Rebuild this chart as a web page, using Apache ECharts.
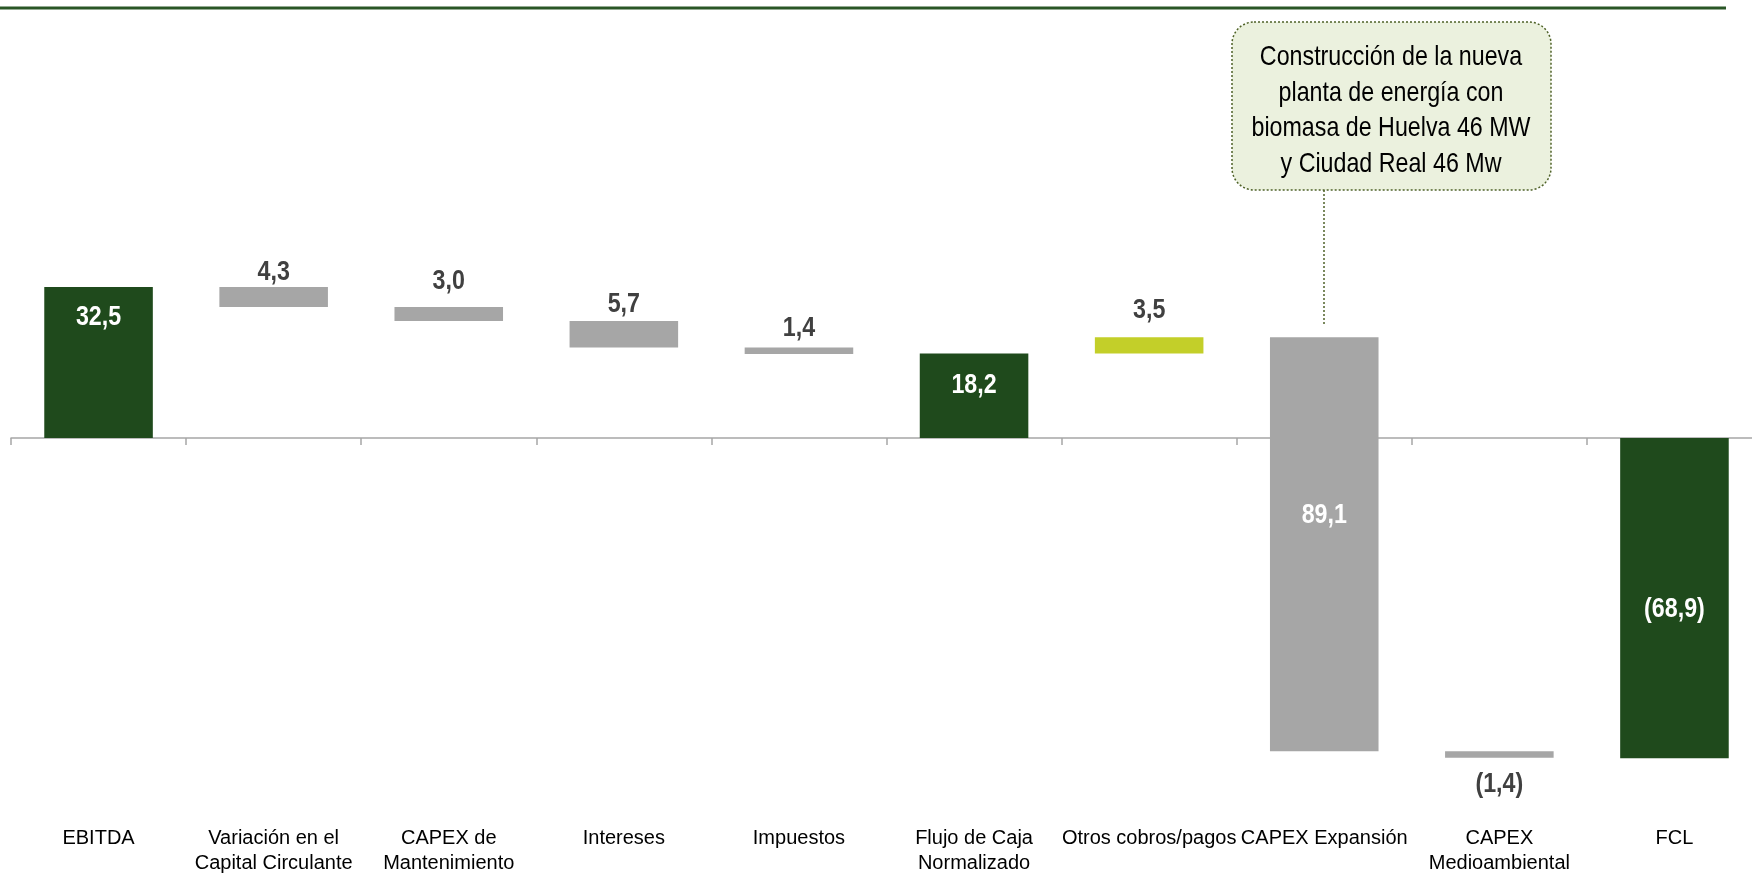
<!DOCTYPE html>
<html>
<head>
<meta charset="utf-8">
<script src="https://cdn.jsdelivr.net/npm/echarts@6/dist/echarts.min.js"></script>
<style>
  html, body { margin: 0; padding: 0; background: #fff; }
  #chart { width: 1752px; height: 877px; }
</style>
</head>
<body>
<div id="chart"></div>
<script>
const categories = ['EBITDA', 'Variación en el\nCapital Circulante', 'CAPEX de\nMantenimiento', 'Intereses', 'Impuestos',
  'Flujo de Caja\nNormalizado', 'Otros cobros/pagos', 'CAPEX Expansión', 'CAPEX\nMedioambiental', 'FCL']
// where each bar starts and ends (waterfall)
const barStart = [0, 32.5, 28.2, 25.2, 19.5, 0, 18.2, 21.7, -67.4, 0]
const barEnd = [32.5, 28.2, 25.2, 19.5, 18.1, 18.2, 21.7, -67.4, -68.8, -68.9]
const valueLabels = ['32,5', '4,3', '3,0', '5,7', '1,4', '18,2', '3,5', '89,1', '(1,4)', '(68,9)']
const barKinds = ['total', 'step', 'step', 'step', 'step', 'total', 'up', 'step', 'step', 'total']
const noteText = 'Construcción de la nueva\nplanta de energía con\nbiomasa de Huelva 46 MW\ny Ciudad Real 46 Mw'

const FONT = "'Liberation Sans', Arial, sans-serif"
const NARROW = 0.83 // squeeze Liberation Sans to look like Arial Narrow
const colors = { total: '#1f4a1c', step: '#a6a6a6', up: '#c3cf29' }

// label placement: anchor edge of the bar and a pixel shift (styling only)
const labelAnchor = ['top', 'top', 'top', 'top', 'top', 'top', 'top', 'top', 'bottom', 'middle']
const labelShift = [30, -15, -26, -17, -19, 32, -27, 178, 27, 11]
const labelInside = [true, false, false, false, false, true, false, true, false, true]

const chart = echarts.init(document.getElementById('chart'))

function renderBar(params, api) {
  const i = api.value(0)
  const a = api.coord([i, api.value(1)])
  const b = api.coord([i, api.value(2)])
  const bw = api.size([1, 0])[0] * 0.62
  const top = Math.min(a[1], b[1])
  const bottom = Math.max(a[1], b[1])
  let ly = top + labelShift[i]
  if (labelAnchor[i] === 'bottom') ly = bottom + labelShift[i]
  if (labelAnchor[i] === 'middle') ly = (top + bottom) / 2 + labelShift[i]
  return {
    type: 'group',
    children: [
      {
        type: 'rect',
        shape: { x: a[0] - bw / 2, y: top, width: bw, height: bottom - top },
        style: { fill: colors[barKinds[i]] },
      },
      {
        type: 'text',
        x: a[0],
        y: ly,
        scaleX: NARROW,
        style: {
          text: valueLabels[i],
          fill: labelInside[i] ? '#ffffff' : '#404040',
          font: `bold 28px ${FONT}`,
          align: 'center',
          verticalAlign: 'middle',
        },
      },
    ],
  }
}

chart.setOption({
  animation: false,
  grid: { left: 11, right: -10, top: 252.2, bottom: 67.3, outerBoundsMode: 'none', containLabel: false },
  xAxis: [
    {
      type: 'category',
      data: categories,
      position: 'bottom',
      axisLine: { onZero: true, lineStyle: { color: '#a6a6a6', width: 1.5 } },
      axisTick: { show: true, length: 7, lineStyle: { color: '#a6a6a6', width: 1.5 } },
      axisLabel: { show: false },
    },
    {
      type: 'category',
      data: categories,
      position: 'bottom',
      axisLine: { show: false, onZero: false },
      axisTick: { show: false },
      axisLabel: {
        interval: 0,
        margin: 16,
        color: '#000',
        fontFamily: FONT,
        fontSize: 20,
        lineHeight: 25,
      },
    },
  ],
  yAxis: { type: 'value', min: -80, max: 40, show: false, splitLine: { show: false } },
  series: [{
    type: 'custom',
    renderItem: renderBar,
    data: categories.map((c, i) => [i, barStart[i], barEnd[i]]),
    encode: { x: 0, y: [1, 2] },
  }],
  graphic: [
    { type: 'line', shape: { x1: 0, y1: 8, x2: 1726, y2: 8 }, style: { stroke: '#2a5626', lineWidth: 3 } },
    {
      type: 'rect',
      shape: { x: 1232, y: 22, width: 319, height: 168, r: 22 },
      style: { fill: '#ebf1de', stroke: '#4f6228', lineWidth: 1.5, lineDash: [2, 2] },
    },
    {
      type: 'text',
      x: 1391,
      y: 111,
      scaleX: NARROW,
      style: {
        text: noteText,
        font: `28px ${FONT}`,
        lineHeight: 35.5,
        fill: '#000',
        align: 'center',
        verticalAlign: 'middle',
      },
    },
    { type: 'line', shape: { x1: 1324, y1: 190, x2: 1324, y2: 326 }, style: { stroke: '#4f6228', lineWidth: 1.5, lineDash: [2, 2] } },
  ],
})
</script>
</body>
</html>
